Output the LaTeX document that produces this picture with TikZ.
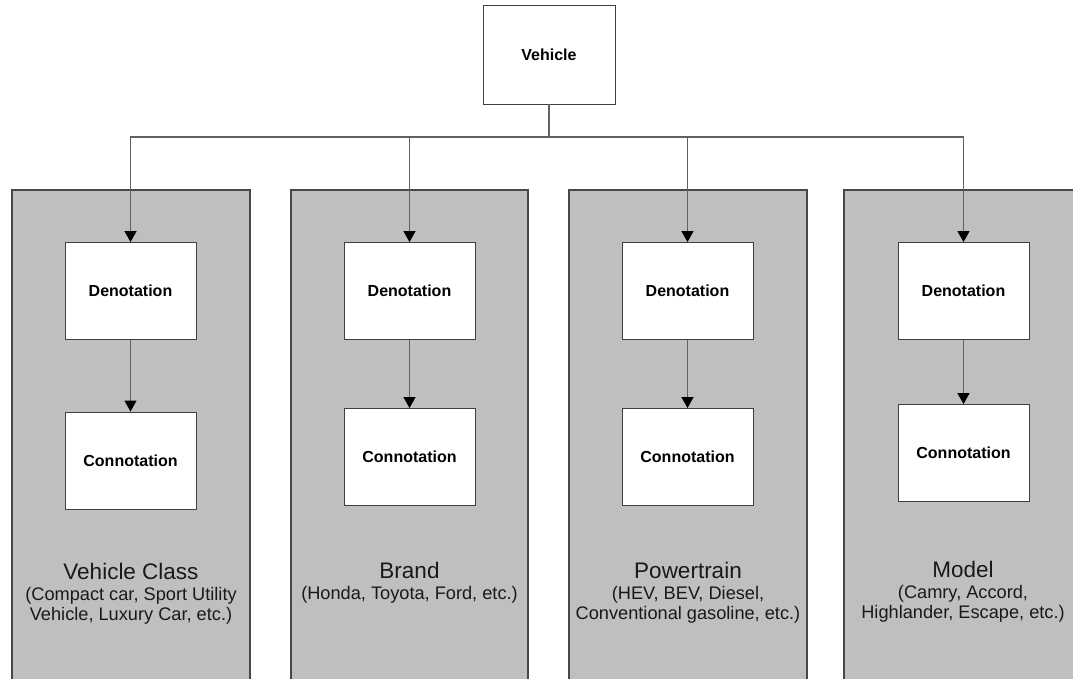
\documentclass[tikz,border=0pt]{standalone}
\usepackage{fontspec}
\setmainfont{Liberation Sans}
\usetikzlibrary{arrows.meta}
\begin{document}
\begin{tikzpicture}[x=1pt,y=-1pt,
  panel/.style={draw=black!72,line width=1.4pt,fill=black!25},
  box/.style={draw=black!75,line width=0.9pt,fill=white,inner sep=0pt,
    minimum width=131pt,minimum height=97pt,font=\bfseries\fontsize{16}{18}\selectfont},
  link/.style={draw=black!62,line width=1.2pt,
    -{Triangle[width=12pt,length=11pt,color=black]}},
  title/.style={anchor=base,font=\fontsize{22.5}{25}\selectfont,text=black!90},
  sub/.style={anchor=base,font=\fontsize{18.2}{20}\selectfont,text=black!90}]
\useasboundingbox (0,0) rectangle (1073,679);
\clip (0,0) rectangle (1073,679);
\fill[white] (0,0) rectangle (1073,679);

% category panels
\draw[panel] (12,190) rectangle (250,700);
\draw[panel] (291,190) rectangle (528,700);
\draw[panel] (569,190) rectangle (807,700);
\draw[panel] (844,190) rectangle (1100,700);

% root
\node[box,minimum width=132pt,minimum height=99pt] (root) at (549,54.5) {Vehicle};

% per-category boxes
\node[box] (d1) at (130.5,291) {Denotation};
\node[box] (c1) at (130.5,460.5) {Connotation};
\node[box] (d2) at (409.5,291) {Denotation};
\node[box] (c2) at (409.5,457) {Connotation};
\node[box] (d3) at (687.5,291) {Denotation};
\node[box] (c3) at (687.5,457) {Connotation};
\node[box] (d4) at (963.5,291) {Denotation};
\node[box] (c4) at (963.5,453) {Connotation};

% tree connectors
\coordinate (j) at (root.south |- 0,137);
\draw[draw=black!62,line width=1.2pt] (root.south) -- (j);
\foreach \n in {d1,d2,d3,d4}{
  \draw[link] (j) -| (\n.north);
}
\foreach \a/\b in {d1/c1,d2/c2,d3/c3,d4/c4}{
  \draw[link] (\a.south) -- (\b.north);
}

% panel captions
\node[title] (t1) at (131,579) {Vehicle Class};
\node[sub] (s1a) at (131,600) {(Compact car, Sport Utility};
\node[sub] (s1b) at (131,620) {Vehicle, Luxury Car, etc.)};

\node[title] (t2) at (409.5,578) {Brand};
\node[sub] (s2a) at (409.5,599) {(Honda, Toyota, Ford, etc.)};

\node[title] (t3) at (688,578) {Powertrain};
\node[sub] (s3a) at (688,599) {(HEV, BEV, Diesel,};
\node[sub] (s3b) at (688,619) {Conventional gasoline, etc.)};

\node[title] (t4) at (963,577) {Model};
\node[sub] (s4a) at (963,598) {(Camry, Accord,};
\node[sub] (s4b) at (963,618) {Highlander, Escape, etc.)};
\end{tikzpicture}
\end{document}
